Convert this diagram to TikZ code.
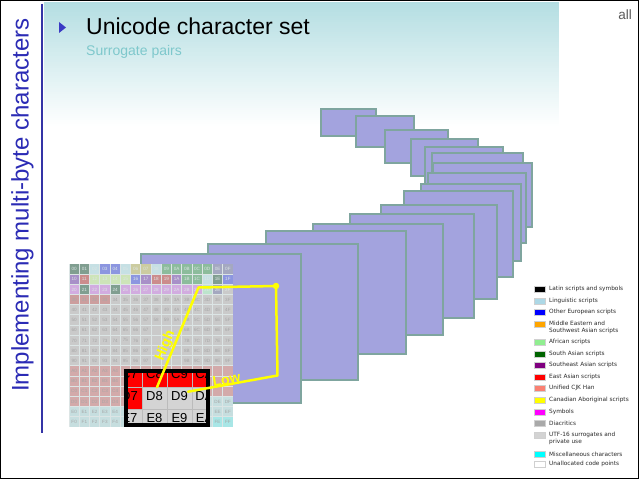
\documentclass[tikz,border=0pt]{standalone}
\usepackage{fontspec}
\setmainfont{Liberation Sans}
\newfontfamily\dejavu{DejaVu Sans}
\usetikzlibrary{calc}
\newif\ifskipcell
\makeatletter
\def\myskiplist{,9-8,9-9,9-10,8-8,8-9,8-10,7-8,7-9,7-10,6-8,6-9,6-10,10-14,10-15,11-14,11-15,12-14,12-15,}
\newcommand\mycheckskip[2]{\edef\mytmp{\noexpand\in@{,#1-#2,}{\myskiplist}}\mytmp
  \ifin@\skipcelltrue\else\skipcellfalse\fi}
\makeatother
\definecolor{hdr}{HTML}{B4DEE2}
\definecolor{vblue}{HTML}{3434A6}
\definecolor{ltitle}{HTML}{2B2BB5}
\definecolor{subc}{HTML}{7EC8CC}
\definecolor{bulletc}{HTML}{3A3AC4}
\definecolor{planef}{HTML}{A3A3DE}
\definecolor{planed}{HTML}{7FA59F}
\definecolor{gbase}{HTML}{CACACA}
\definecolor{gline}{HTML}{DCE5E5}
\definecolor{gpink}{HTML}{D3AAAA}
\definecolor{gteal}{HTML}{C6DEDF}
\definecolor{gsal}{HTML}{CC9E9E}
\definecolor{gvi}{HTML}{D2ACE0}
\definecolor{gdk}{HTML}{809E90}
\definecolor{gbl}{HTML}{8C96E0}
\definecolor{glb}{HTML}{C6E0E4}
\definecolor{gkh}{HTML}{CCCCA0}
\definecolor{ggr}{HTML}{8CBC9C}
\definecolor{gsl}{HTML}{A4A8C0}
\definecolor{gyg}{HTML}{CDE4B8}
\definecolor{grd}{HTML}{CC8C8C}
\definecolor{gpu}{HTML}{A890C8}
\definecolor{glg}{HTML}{BCE4CC}
\definecolor{gcy}{HTML}{A8E6E6}
\definecolor{gtxt}{HTML}{A6A6A6}
\definecolor{gtxtl}{HTML}{DDE6E6}
\definecolor{mgray}{HTML}{D4D4D4}
\definecolor{mline}{HTML}{BBBBBB}
\definecolor{mred}{HTML}{FF0000}
\definecolor{legtxt}{HTML}{2A2A2A}
\definecolor{swline}{HTML}{D0D0D0}
\definecolor{lgBK}{HTML}{000000}
\definecolor{lgLB}{HTML}{ADD8E6}
\definecolor{lgBL}{HTML}{0000FF}
\definecolor{lgOR}{HTML}{FFA500}
\definecolor{lgLG}{HTML}{90EE90}
\definecolor{lgDG}{HTML}{006400}
\definecolor{lgPU}{HTML}{800080}
\definecolor{lgRD}{HTML}{FF0000}
\definecolor{lgSA}{HTML}{FA8072}
\definecolor{lgYE}{HTML}{FFFF00}
\definecolor{lgMG}{HTML}{FF00FF}
\definecolor{lgDK}{HTML}{A9A9A9}
\definecolor{lgLT}{HTML}{D3D3D3}
\definecolor{lgCY}{HTML}{00FFFF}
\definecolor{lgWH}{HTML}{FFFFFF}
\definecolor{yel}{HTML}{FFFF00}
\definecolor{allc}{HTML}{5A5A5A}
\begin{document}
\begin{tikzpicture}[x=1pt,y=-1pt,
  plane/.style={fill=planef,draw=planed,line width=1.2pt},
  celltxt/.style={inner sep=0pt,font=\fontsize{4.6}{5}\selectfont},
  mtext/.style={inner sep=0pt,font=\fontsize{13}{14}\selectfont,text=black},
  mcell/.style={draw=mline,line width=0.8pt},
  yline/.style={draw=yel,line width=2.5pt,line join=round,line cap=round},
  ylabel/.style={text=yel,inner sep=0pt,font=\bfseries\fontsize{14}{15}\selectfont},
  swatch/.style={draw=swline,line width=0.6pt},
  legtext/.style={inner sep=0pt,anchor=west,align=left,text=legtxt,font=\dejavu\fontsize{5.8}{7.3}\selectfont}
]
\useasboundingbox (0,0) rectangle (640,481);
\fill[white] (0,0) rectangle (640,481);
% header gradient
\foreach \k in {0,...,61} {
  \pgfmathtruncatemacro\p{100-\k*100/62}
  \fill[hdr!\p!white] (44,{2+2*\k}) rectangle (559,{4.2+2*\k});
}
% planes
\foreach \a/\b/\c/\d in {321/109/376/136, 356/116/414/147, 385/130/448/163, 411/139/478/176,
  425/147/503/200, 432/153/523/210, 433/163/532/227, 428/173/526/243, 421/184/521/261,
  404/191/513/277, 381/205/497/299, 350/214/474/318, 313/224/443/335, 266/231/406/354,
  208/244/358/380, 141/254/301/403}
  \draw[plane] (\a,\b) rectangle (\c,\d);
% BMP grid
\fill[gline] (69,264) rectangle (233,427);
\foreach \r/\rh in {0/0,1/1,2/2,3/3,4/4,5/5,6/6,7/7,8/8,9/9,10/A,11/B,12/C,13/D,14/E,15/F}{
  \foreach \c/\ch in {0/0,1/1,2/2,3/3,4/4,5/5,6/6,7/7,8/8,9/9,10/A,11/B,12/C,13/D,14/E,15/F}{
    \def\cc{gbase}
    \ifnum\r>9 \def\cc{gpink}\fi
    \ifnum\r>13 \def\cc{gteal}\fi
    \ifnum\r=13 \ifnum\c>7 \def\cc{gteal}\fi\fi
    \fill[\cc] ({69+\c*10.25+0.5},{264+\r*10.19+0.5}) rectangle +(9.25,9.19);
  }
}
\foreach \r/\c/\cc in {0/0/gdk,0/1/gdk,0/2/glb,0/3/gbl,0/4/gbl,0/5/glb,0/6/gkh,0/7/gkh,0/8/glb,
  0/9/ggr,0/10/ggr,0/11/ggr,0/12/ggr,0/13/ggr,0/14/gsl,0/15/gsl,
  1/0/gpu,1/1/grd,1/2/gyg,1/3/gyg,1/4/gyg,1/5/gyg,1/6/gbl,1/7/gpu,1/8/grd,1/9/grd,1/10/gpu,
  1/11/ggr,1/12/ggr,1/13/glb,1/14/gdk,1/15/gbl,
  2/0/gvi,2/1/gdk,2/2/gvi,2/3/gvi,2/4/gdk,2/5/gvi,2/6/gvi,2/7/gvi,2/8/gvi,2/9/gvi,2/10/gvi,
  2/11/gvi,2/12/gvi,2/13/glg,2/14/gsl,
  3/0/gsal,3/1/gsal,3/2/gsal,3/3/gsal,15/14/gcy,15/15/gcy}
  \fill[\cc] ({69+\c*10.25+0.5},{264+\r*10.19+0.5}) rectangle +(9.25,9.19);
\foreach \r/\rh in {0/0,1/1,2/2,3/3,4/4,5/5,6/6,7/7,8/8,9/9,10/A,11/B,12/C,13/D,14/E,15/F}{
  \foreach \c/\ch in {0/0,1/1,2/2,3/3,4/4,5/5,6/6,7/7,8/8,9/9,10/A,11/B,12/C,13/D,14/E,15/F}{
    \def\tc{gtxt}
    \ifnum\r<3 \def\tc{gtxtl}\fi
    \def\show{1}
    \ifnum\r>9 \ifnum\c>4 \ifnum\c<14 \def\show{0}\fi\fi\fi
    \mycheckskip{\r}{\c}
    \ifskipcell\def\show{0}\fi
    \if1\show
      \node[celltxt,text=\tc] (g\rh\ch) at ({69+\c*10.25+5.125},{264+\r*10.19+5.1}) {\rh\ch};
    \fi
  }
}
% magnified box
\begin{scope}
  \clip (126,371) rectangle (208,425);
  \foreach \c/\ch in {7/7,8/8,9/9,10/A}{
    \fill[mred] ({117+(\c-7)*25},365) rectangle +(25,22);
    \draw[mcell] ({117+(\c-7)*25},365) rectangle +(25,22);
    \node[mtext] (mC\ch) at ({129.5+(\c-7)*25},374.5) {C\ch};
    \ifnum\c=7 \def\dc{mred}\else\def\dc{mgray}\fi
    \fill[\dc] ({117+(\c-7)*25},387) rectangle +(25,22);
    \draw[mcell] ({117+(\c-7)*25},387) rectangle +(25,22);
    \node[mtext] (mD\ch) at ({129.5+(\c-7)*25},396.5) {D\ch};
    \fill[mgray] ({117+(\c-7)*25},409) rectangle +(25,22);
    \draw[mcell] ({117+(\c-7)*25},409) rectangle +(25,22);
    \node[mtext] (mE\ch) at ({129.5+(\c-7)*25},418.5) {E\ch};
  }
\end{scope}
\draw[line width=4pt] (126,371) rectangle (208,425);
% surrogate pair lines
\node[circle,fill=yel,inner sep=0pt,minimum size=6.5pt] (dot) at (276,286) {};
\coordinate (hiA) at ($(mD8.north)+(2.5,-4.5)$);
\coordinate (hiB) at (198.5,287.5);
\coordinate (loA) at (mD9.north east);
\coordinate (loB) at (277.5,375.5);
\draw[yline] (hiA) -- (hiB) -- (dot.center);
\draw[yline] (loA) -- (loB) -- (dot.center);
\node[ylabel,rotate=67.5] (high) at (165.5,346) {High};
\node[ylabel,rotate=10] (low) at (226.5,379.5) {Low};
% legend
\foreach \y/\ty/\col/\txt [count=\i] in {
  289/289/lgBK/{Latin scripts and symbols},
  301/301/lgLB/{Linguistic scripts},
  312/312/lgBL/{Other European scripts},
  324/327.6/lgOR/{Middle Eastern and\\Southwest Asian scripts},
  342/342/lgLG/{African scripts},
  354/354/lgDG/{South Asian scripts},
  365/365/lgPU/{Southeast Asian scripts},
  377/377/lgRD/{East Asian scripts},
  388/388/lgSA/{Unified CJK Han},
  400/400/lgYE/{Canadian Aboriginal scripts},
  412/412/lgMG/{Symbols},
  423/423/lgDK/{Diacritics},
  435/438.6/lgLT/{UTF-16 surrogates and\\private use},
  454/454/lgCY/{Miscellaneous characters},
  464/464/lgWH/{Unallocated code points}}{
  \draw[swatch,fill=\col] (534,{\y-2.8}) rectangle (545,{\y+2.8});
  \node[legtext] (leg\i) at (549,\ty) {\txt};
}
% titles
\fill[bulletc] (59,22) -- (59,33) -- (66,27.5) -- cycle;
\node[anchor=base west,inner sep=0pt,font=\fontsize{23}{26}\selectfont] (title) at (86,34.7) {Unicode character set};
\node[anchor=base west,inner sep=0pt,text=subc,font=\fontsize{14}{16}\selectfont] (sub) at (86,56) {Surrogate pairs};
\node[anchor=base east,inner sep=0pt,text=allc,font=\fontsize{13.5}{15}\selectfont] (all) at (632,20) {all};
\node[anchor=base west,rotate=90,inner sep=0pt,text=ltitle,font=\fontsize{24}{26}\selectfont] (side) at (28.5,392) {Implementing multi-byte characters};
\draw[draw=vblue,line width=2.8pt] (42,4) -- (42,433);
\draw[line width=1.2pt] (0.8,0.8) rectangle (638.6,478.6);
\end{tikzpicture}
\end{document}
